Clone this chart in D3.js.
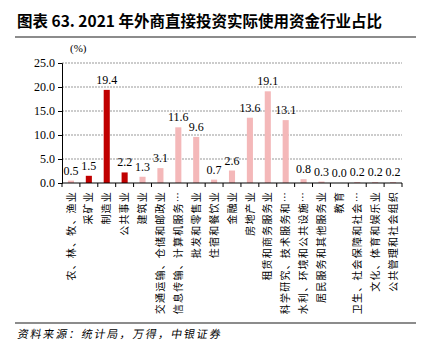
<!DOCTYPE html>
<html>
<head>
<meta charset="utf-8">
<script src="https://cdn.jsdelivr.net/npm/d3@7"></script>
<style>
  body { margin: 0; background: #fff; }
  svg { display: block; }
</style>
</head>
<body>
<div id="chart"></div>
<script>
// data
var categories = ["农、林、牧、渔业", "采矿业", "制造业", "公共事业", "建筑业",
    "交通运输、仓储和邮政业", "信息传输、计算机服务…", "批发和零售业", "住宿和餐饮业",
    "金融业", "房地产业", "租赁和商务服务业", "科学研究、技术服务和…",
    "水利、环境和公共设施…", "居民服务和其他服务业", "教育", "卫生、社会保障和社会…",
    "文化、体育和娱乐业", "公共管理和社会组织"];
var values = [0.5, 1.5, 19.4, 2.2, 1.3, 3.1, 11.6, 9.6, 0.7, 2.6, 13.6, 19.1, 13.1,
    0.8, 0.3, 0.0, 0.2, 0.2, 0.2];
// secondary industry highlighted in dark red
var highlight = [false, true, true, true, false, false, false, false, false, false,
    false, false, false, false, false, false, false, false, false];
var yTicks = [0, 5, 10, 15, 20, 25];

var W = 426, H = 359;
var margin = {top: 63, left: 62, right: 24, bottom: 176};
var width = W - margin.left - margin.right,
    height = H - margin.top - margin.bottom;

var svg = d3.select("#chart")
    .append("svg")
        .attr("width", W)
        .attr("height", H);

// title
svg.append("text")
    .attr("x", 17)
    .attr("y", 27)
    .attr("font-family", "'Noto Sans CJK SC', 'Liberation Serif', serif")
    .attr("font-weight", "bold")
    .attr("font-size", "15.5px")
    .attr("fill", "#000")
    .text("图表 63. 2021 年外商直接投资实际使用资金行业占比");

svg.append("line")
    .attr("x1", 15).attr("x2", 416)
    .attr("y1", 37).attr("y2", 37)
    .attr("stroke", "#666")
    .attr("stroke-width", 1.5);

svg.append("line")
    .attr("x1", 15).attr("x2", 416)
    .attr("y1", 323).attr("y2", 323)
    .attr("stroke", "#666")
    .attr("stroke-width", 1.5);

svg.append("text")
    .attr("x", 17)
    .attr("y", 338)
    .attr("font-family", "'Noto Sans CJK SC', sans-serif")
    .attr("font-size", "11px")
    .attr("letter-spacing", "1.8px")
    .attr("fill", "#000")
    .attr("transform", "skewX(-10) translate(59.6,0)")
    .text("资料来源：统计局，万得，中银证券");

var g = svg.append("g")
    .attr("transform", "translate(" + margin.left + "," + margin.top + ")");

var x = d3.scaleBand()
    .domain(categories)
    .range([0, width])
    .paddingInner(0.66)
    .paddingOuter(0.33);

var y = d3.scaleLinear()
    .domain([0, 25])
    .range([height, 0]);

// gridlines
g.append("g")
    .selectAll("line")
    .data(yTicks.slice(1))
    .enter()
    .append("line")
        .attr("x1", 0)
        .attr("x2", width)
        .attr("y1", function(d) { return y(d); })
        .attr("y2", function(d) { return y(d); })
        .attr("stroke", "#999")
        .attr("stroke-dasharray", "2,1");

// y axis
var yAxis = g.append("g")
    .call(d3.axisLeft(y).tickValues(yTicks).tickFormat(d3.format(".1f")).tickSize(4).tickPadding(3));
yAxis.select(".domain").attr("stroke", "#000");
yAxis.selectAll("text")
    .attr("font-family", "'Liberation Serif', serif")
    .attr("font-size", "12px")
    .attr("fill", "#000");

g.append("text")
    .attr("x", 8)
    .attr("y", -11)
    .attr("font-family", "'Liberation Serif', serif")
    .attr("font-size", "11px")
    .attr("fill", "#000")
    .text("(%)");

// bars
g.append("g")
    .selectAll("rect")
    .data(values)
    .enter()
    .append("rect")
        .attr("x", function(d, i) { return x(categories[i]); })
        .attr("y", function(d) { return y(d); })
        .attr("width", x.bandwidth())
        .attr("height", function(d) { return height - y(d); })
        .attr("fill", function(d, i) { return highlight[i] ? "#C00000" : "#F4B8B9"; });

// value labels
g.append("g")
    .selectAll("text")
    .data(values)
    .enter()
    .append("text")
        .attr("x", function(d, i) { return x(categories[i]) + x.bandwidth() / 2; })
        .attr("y", function(d) { return y(d) - 6; })
        .attr("text-anchor", "middle")
        .attr("font-family", "'Liberation Serif', serif")
        .attr("font-size", "12px")
        .attr("fill", "#000")
        .text(function(d) { return d.toFixed(1); });

// x axis with ticks at band boundaries
var step = x.step();
var xAxis = g.append("g")
    .attr("transform", "translate(0," + height + ")");
xAxis.append("line")
    .attr("x1", 0).attr("x2", width)
    .attr("stroke", "#000");
xAxis.selectAll(".tick")
    .data(d3.range(categories.length + 1))
    .enter()
    .append("line")
        .attr("x1", function(i) { return i * step; })
        .attr("x2", function(i) { return i * step; })
        .attr("y1", 0)
        .attr("y2", 4)
        .attr("stroke", "#000");

// rotated category labels, one glyph per fixed pitch like the original
var pitch = 11.2;
var labels = xAxis.selectAll(".cat")
    .data(categories)
    .enter()
    .append("text")
        .attr("transform", function(d) {
            return "translate(" + (x(d) + x.bandwidth() / 2) + ",8) rotate(-90)";
        })
        .attr("dy", "0.36em")
        .attr("font-family", "'Noto Sans CJK SC', sans-serif")
        .attr("font-size", "10px")
        .attr("fill", "#000");
labels.selectAll("tspan")
    .data(function(d) { return Array.from(d); })
    .enter()
    .append("tspan")
        .attr("x", function(c, j, nodes) { return -(nodes.length - j) * pitch; })
        .text(function(c) { return c; });
</script>
</body>
</html>
